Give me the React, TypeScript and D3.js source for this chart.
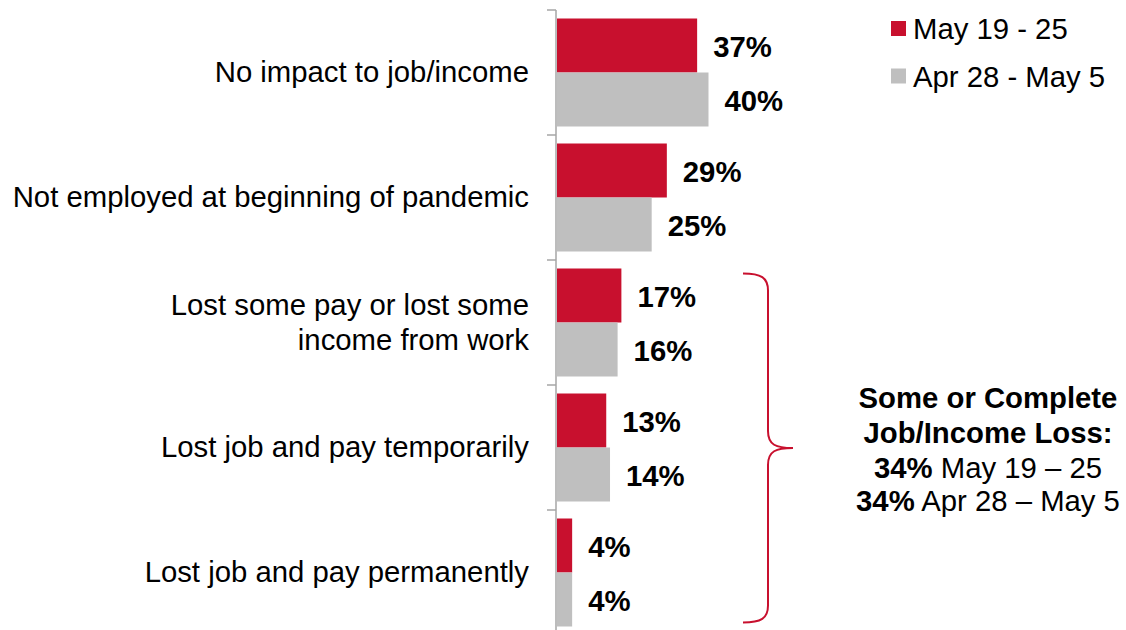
import React from "react";
import * as d3 from "d3";

const categories = [
  "No impact to job/income",
  "Not employed at beginning of pandemic",
  "Lost some pay or lost some income from work",
  "Lost job and pay temporarily",
  "Lost job and pay permanently",
];
const categoryLines: string[][] = [
  ["No impact to job/income"],
  ["Not employed at beginning of pandemic"],
  ["Lost some pay or lost some", "income from work"],
  ["Lost job and pay temporarily"],
  ["Lost job and pay permanently"],
];
const seriesNames = ["May 19 - 25", "Apr 28 - May 5"];
const may19_25 = [37, 29, 17, 13, 4];
const apr28_may5 = [40, 25, 16, 14, 4];
const seriesColors = ["#C8102E", "#BFBFBF"];
const annotationLines = [
  { bold: "Some or Complete", rest: "" },
  { bold: "Job/Income Loss:", rest: "" },
  { bold: "34%", rest: " May 19 \u2013 25" },
  { bold: "34%", rest: " Apr 28 \u2013 May 5" },
];

const W = 1126;
const H = 630;
const FONT = "'Liberation Sans', Arial, Helvetica, sans-serif";
const FS = 29.3;

export default function App() {
  const axisX = 556;
  const x = d3.scaleLinear().domain([0, 40]).range([557, 708.5]);
  const y = d3
    .scaleBand<string>()
    .domain(categories)
    .range([10, 635])
    .paddingInner(0.136)
    .paddingOuter(0.068);
  const inner = d3.scaleBand<string>().domain(seriesNames).range([0, y.bandwidth()]);
  const step = y.step();
  const seriesValues = [may19_25, apr28_may5];

  const ticks = d3.range(categories.length + 1).map((i) => 10 + i * step);

  // bracket spanning last three categories
  const bTop = (y(categories[2]) as number) + 5;
  const bBot = (y(categories[4]) as number) + y.bandwidth() - 4;
  const bMid = (bTop + bBot) / 2;
  const bx0 = 743;
  const bx1 = 768;
  const bTip = 793;
  const r = 17;
  const bracketPath = [
    `M${bx0},${bTop}`,
    `C${bx0 + 18},${bTop} ${bx1},${bTop + 4} ${bx1},${bTop + r}`,
    `L${bx1},${bMid - r}`,
    `C${bx1},${bMid - 3} ${bx1 + 8},${bMid} ${bTip},${bMid}`,
    `C${bx1 + 8},${bMid} ${bx1},${bMid + 3} ${bx1},${bMid + r}`,
    `L${bx1},${bBot - r}`,
    `C${bx1},${bBot - 4} ${bx0 + 18},${bBot} ${bx0},${bBot}`,
  ].join(" ");

  const annY = [397, 432, 467, 500];

  return (
    <svg
      width={W}
      height={H}
      style={{ position: "absolute", left: 0, top: 0, background: "#fff" }}
      fontFamily={FONT}
    >
      <rect x={0} y={0} width={W} height={H} fill="#fff" />
      {/* axis */}
      <line x1={axisX} x2={axisX} y1={10} y2={635} stroke="#A6A6A6" strokeWidth={1.5} />
      {ticks.map((t, i) => (
        <line key={i} x1={axisX - 9} x2={axisX} y1={t} y2={t} stroke="#A6A6A6" strokeWidth={1.5} />
      ))}
      {/* bars */}
      {categories.map((c, ci) =>
        seriesNames.map((s, si) => {
          const v = seriesValues[si][ci];
          const by = (y(c) as number) + (inner(s) as number);
          return (
            <g key={c + s}>
              <rect
                x={x(0)}
                y={by}
                width={x(v) - x(0)}
                height={inner.bandwidth()}
                fill={seriesColors[si]}
              />
              <text
                x={x(v) + 16}
                y={by + inner.bandwidth() / 2 + 1}
                dominantBaseline="central"
                fontSize={FS}
                fontWeight="bold"
                fill="#000"
              >
                {v}%
              </text>
            </g>
          );
        })
      )}
      {/* category labels */}
      {categories.map((c, ci) => {
        const lines = categoryLines[ci];
        const cy = (y(c) as number) + y.bandwidth() / 2 - 1;
        const lh = 35;
        return (
          <text key={c} x={529} fontSize={FS} fill="#000" textAnchor="end">
            {lines.map((l, li) => (
              <tspan
                key={li}
                x={529}
                y={cy + (li - (lines.length - 1) / 2) * lh}
                dominantBaseline="central"
              >
                {l}
              </tspan>
            ))}
          </text>
        );
      })}
      {/* legend */}
      {seriesNames.map((s, si) => (
        <g key={s} transform={`translate(891, ${21 + si * 47.5})`}>
          <rect x={0} y={0} width={15} height={15} fill={seriesColors[si]} />
          <text x={22} y={7.5} dominantBaseline="central" fontSize={FS} fill="#000">
            {s}
          </text>
        </g>
      ))}
      {/* bracket */}
      <path d={bracketPath} fill="none" stroke="#C8102E" strokeWidth={2} />
      {/* annotation */}
      {annotationLines.map((a, i) => (
        <text
          key={i}
          x={988}
          y={annY[i]}
          textAnchor="middle"
          dominantBaseline="central"
          fontSize={FS}
          fill="#000"
        >
          <tspan fontWeight="bold">{a.bold}</tspan>
          {a.rest ? <tspan>{a.rest}</tspan> : null}
        </text>
      ))}
    </svg>
  );
}
